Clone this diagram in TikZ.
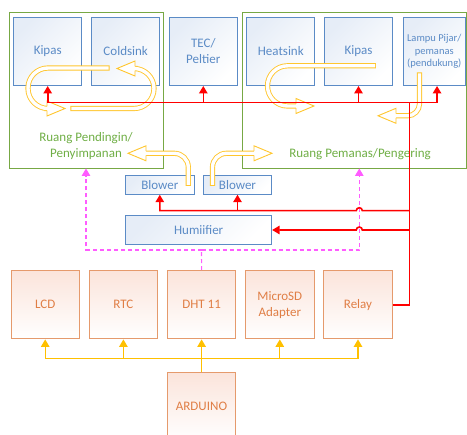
\documentclass[tikz,border=0pt]{standalone}
\usepackage{fontspec}
\setmainfont{Carlito}
\usetikzlibrary{arrows.meta}
\definecolor{boxblue}{HTML}{5B8BC6}
\definecolor{fillblue}{HTML}{E6EDF7}
\definecolor{roomgreen}{HTML}{77A844}
\definecolor{txtgreen}{HTML}{6FAE45}
\definecolor{boxorange}{HTML}{E59A6C}
\definecolor{fillorange}{HTML}{FBE4DB}
\definecolor{txtorange}{HTML}{E07E45}
\definecolor{flowyellow}{HTML}{FFC62E}
\definecolor{ctrlyellow}{HTML}{FFC000}
\definecolor{sensorpink}{HTML}{FF5CFF}
\tikzset{
  cbox/.style={draw=boxblue, line width=0.9pt, top color=fillblue, bottom color=white,
    shading angle=45, text=boxblue, align=center, inner sep=1pt,
    minimum width=68pt, minimum height=68.5pt, font=\fontsize{13}{16}\selectfont},
  ubox/.style={cbox, draw=boxorange, top color=fillorange, text=txtorange,
    minimum width=68.3pt, minimum height=68.3pt},
  room/.style={draw=roomgreen, line width=0.9pt},
  roomtext/.style={text=txtgreen, align=center, font=\fontsize{13}{16}\selectfont},
  flow/.style={draw=flowyellow, line width=0.9pt, double=white, double distance=3.4pt, line cap=rect},
  flowhead/.pic={
    \filldraw[draw=flowyellow, fill=white, line width=0.9pt]
      (0,2.15pt) -- (0,7.5pt) -- (18pt,0) -- (0,-7.5pt) -- (0,-2.15pt);
  },
  power/.style={draw=red, line width=1.6pt},
  ctrl/.style={draw=ctrlyellow, line width=1.2pt},
  sensor/.style={draw=sensorpink, line width=1.1pt, dash pattern=on 4pt off 3pt}
}
\begin{document}
\begin{tikzpicture}[x=1pt, y=-1pt, >={Triangle[width=8.5pt,length=7.5pt]}]
  \useasboundingbox (0,0) rectangle (467,435);

  \node[room, minimum width=154pt, minimum height=156pt] (coolroom) at (86,90) {};
  \node[room, minimum width=223.8pt, minimum height=156pt] (heatroom) at (354.6,90) {};
  \node[roomtext] (cooltext) at (86,146) {Ruang Pendingin/\\Penyimpanan};
  \node[roomtext] (heattext) at (360,154) {Ruang Pemanas/Pengering};

  \node[cbox] (kipasA) at (47.7,51.3) {Kipas};
  \node[cbox] (coldsink) at (125.7,51.3) {Coldsink};
  \node[cbox] (tec) at (203.3,51.3) {TEC/\\Peltier};
  \node[cbox] (heatsink) at (280.8,51.3) {Heatsink};
  \node[cbox] (kipasB) at (358.5,51.3) {Kipas};
  \node[cbox, minimum width=62.5pt, font=\fontsize{10.5}{12.7}\selectfont] (lampu) at (434.25,51.3)
    {Lampu Pijar/\\pemanas\\(pendukung)};

  \node[cbox, minimum width=68.3pt, minimum height=18.6pt] (blowerA) at (159.8,185) {Blower};
  \node[cbox, minimum width=68.3pt, minimum height=18.6pt] (blowerB) at (237.5,185) {Blower};
  \node[cbox, minimum width=146pt, minimum height=29pt] (humi) at (198.7,230) {Humiifier};

  \foreach \n/\t [count=\i from 0] in {lcd/LCD, rtc/RTC, dht/DHT 11, sd/{MicroSD\\Adapter}, relay/Relay}
    \node[ubox] (\n) at (45.2+78.2*\i,304.8) {\t};
  \node[ubox, minimum height=68pt] (arduino) at (201.5,406.7) {ARDUINO};

  \draw[flow, rounded corners=20pt] (107,68) -- (28,68) -- (28,108.5) -- (47,108.5);
  \pic at (47,108.5) {flowhead};
  \draw[flow, rounded corners=20pt] (73,108.5) -- (154,108.5) -- (154,68.5) -- (135,68.5);
  \pic[rotate=180] at (135,68.5) {flowhead};
  \draw[flow, rounded corners=14pt] (188.3,183.3) -- (188.3,153.3) -- (146,153.3);
  \pic[rotate=180] at (146,153.3) {flowhead};
  \draw[flow, rounded corners=14pt] (212.5,183.3) -- (212.5,153.3) -- (254,153.3);
  \pic at (254,153.3) {flowhead};
  \draw[flow, rounded corners=20pt] (373.3,65.8) -- (267.5,65.8) -- (267.5,106) -- (296,106);
  \pic at (296,106) {flowhead};
  \draw[flow, rounded corners=12pt] (419.5,75) -- (419.5,115.8) -- (396,115.8);
  \pic[rotate=180] at (396,115.8) {flowhead};

  \coordinate (sj) at (201.5,250);
  \draw[sensor] (dht.north) -- (sj);
  \draw[sensor, ->] (sj) -| (coolroom.south);
  \draw[sensor, ->] (sj) -| ([xshift=4.7pt]heatroom.south);

  \coordinate (rbus) at (409.3,102.7);
  \draw[power] (relay.east) -| (rbus);
  \foreach \n in {kipasA, tec, kipasB}
    \draw[power, ->] (rbus) -| (\n.south);
  \draw[power, ->] (rbus) -| ([xshift=2.8pt]lampu.south);
  \draw[power, ->] (409.3,210.7) -- (362.3,210.7) arc[start angle=0, end angle=180, radius=3pt]
    -| (blowerA.south);
  \draw[power, ->] (blowerB.south |- blowerA.south) ++(0,16) -- (blowerB.south);
  \draw[power, ->] (409.3,230) -- (362.3,230) arc[start angle=0, end angle=180, radius=3pt]
    -- (humi.east);

  \coordinate (abus) at (201.5,358.3);
  \draw[ctrl] (arduino.north) -- (abus);
  \foreach \n in {lcd, rtc, dht, sd, relay}
    \draw[ctrl, ->] (abus) -| (\n.south);
\end{tikzpicture}
\end{document}
